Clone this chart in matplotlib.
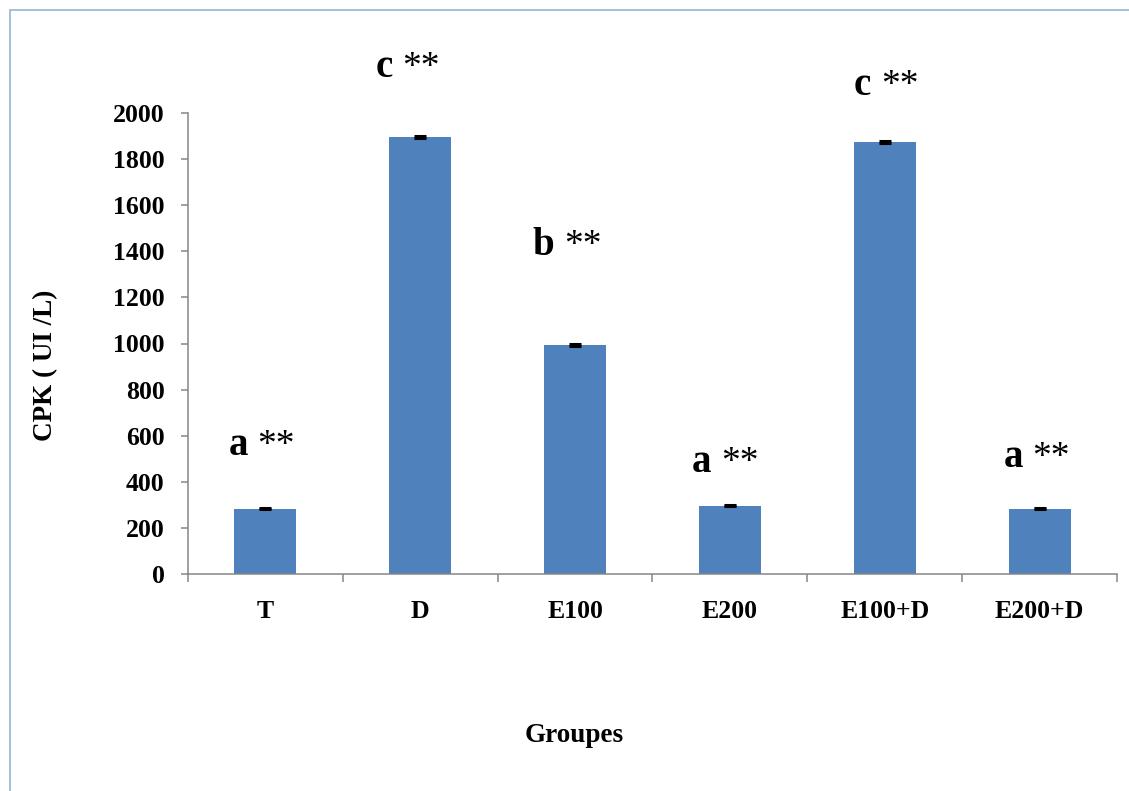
import matplotlib
matplotlib.use("Agg")
import matplotlib.pyplot as plt
from matplotlib.patches import Rectangle

# CPK activity per group
groups = ["T", "D", "E100", "E200", "E100+D", "E200+D"]
cpk = [284, 1895, 995, 297, 1873, 284]
cpk_err = [4, 4, 4, 4, 4, 4]
letters = ["a", "c", "b", "a", "c", "a"]
stars = ["**", "**", "**", "**", "**", "**"]
y_ticks = [0, 200, 400, 600, 800, 1000, 1200, 1400, 1600, 1800, 2000]

# placement of the significance labels: height in data units, nudge in points
label_y = [516, 2156, 1384, 442, 2078, 464]
label_dx = [-0.7, -8, -3.2, -1.5, 2.2, 0]

serif = ["Liberation Serif", "DejaVu Serif"]
plt.rcParams["font.family"] = serif

W, H = 1129, 791
fig = plt.figure(figsize=(W / 100, H / 100), dpi=100)
ax = fig.add_axes([188 / W, 1 - 574 / H, (1117 - 188) / W, (574 - 113) / H])

x = list(range(len(groups)))
ax.bar(x, cpk, width=0.40, color="#4F81BD", zorder=2)
ax.errorbar(x, cpk, yerr=cpk_err, fmt="none", ecolor="black",
            elinewidth=1.5, capsize=4.5, capthick=2.2, zorder=3)

ax.set_xlim(-0.5, len(groups) - 0.5)
ax.set_ylim(0, 2000)
ax.set_yticks(y_ticks)
ax.set_yticklabels([str(v) for v in y_ticks], fontsize=18.5, fontweight="bold")

# boundary ticks between categories, labels at category centres
ax.set_xticks([i - 0.5 for i in range(len(groups) + 1)])
ax.set_xticklabels([""] * (len(groups) + 1))
ax.set_xticks(x, minor=True)
ax.set_xticklabels(groups, minor=True, fontsize=18.5, fontweight="bold")
ax.tick_params(axis="x", which="minor", length=0, pad=19)
ax.tick_params(axis="x", which="major", length=6, width=1.1, color="#868686", direction="out")
ax.tick_params(axis="y", length=5, width=1.1, color="#868686", direction="out", pad=12)

for side in ["top", "right"]:
    ax.spines[side].set_visible(False)
for side in ["left", "bottom"]:
    ax.spines[side].set_color("#868686")
    ax.spines[side].set_linewidth(1.1)

# significance letters (bold) followed by asterisks (regular)
for xi, yl, dx, let, st in zip(x, label_y, label_dx, letters, stars):
    ax.annotate(let, xy=(xi, yl), xytext=(-12 + dx, 0), textcoords="offset points",
                ha="right", va="baseline", fontsize=28, fontweight="bold",
                annotation_clip=False)
    ax.annotate(st, xy=(xi, yl), xytext=(-5 + dx, 0), textcoords="offset points",
                ha="left", va="baseline", fontsize=27, fontweight="normal",
                annotation_clip=False)

fig.text(46 / W, 1 - 365 / H, "CPK ( UI /L)", rotation=90, ha="center", va="center",
         fontsize=19.5, fontweight="bold")
fig.text(574 / W, 1 - 735 / H, "Groupes", ha="center", va="center",
         fontsize=19.5, fontweight="bold")

# outer chart-area frame
fig.patches.append(Rectangle((9.5 / W, -0.2), 1.5, (H - 9.5) / H + 0.2,
                             transform=fig.transFigure, fill=False,
                             edgecolor="#95B3D7", linewidth=1.2))

fig.savefig("out.png", dpi=100)
